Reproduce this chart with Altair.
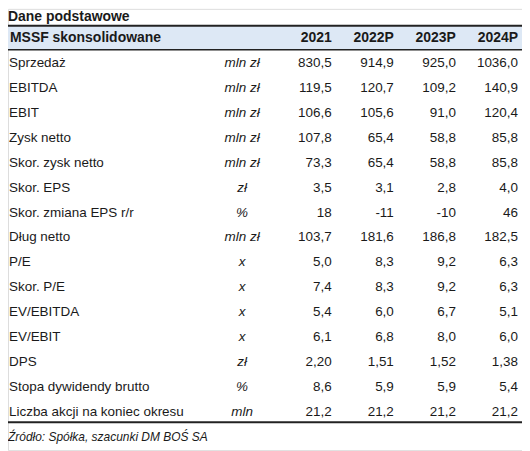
import altair as alt
import pandas as pd

title_text = "Dane podstawowe"
header_label = "MSSF skonsolidowane"
source_text = "Źródło: Spółka, szacunki DM BOŚ SA"

years = ["2021", "2022P", "2023P", "2024P"]

labels = [
    "Sprzedaż", "EBITDA", "EBIT", "Zysk netto", "Skor. zysk netto", "Skor. EPS",
    "Skor. zmiana EPS r/r", "Dług netto", "P/E", "Skor. P/E", "EV/EBITDA",
    "EV/EBIT", "DPS", "Stopa dywidendy brutto", "Liczba akcji na koniec okresu",
]
units = [
    "mln zł", "mln zł", "mln zł", "mln zł", "mln zł", "zł", "%", "mln zł",
    "x", "x", "x", "x", "zł", "%", "mln",
]
decimals = [1, 1, 1, 1, 1, 1, 0, 1, 1, 1, 1, 1, 2, 1, 1]

v2021 = [830.5, 119.5, 106.6, 107.8, 73.3, 3.5, 18, 103.7, 5.0, 7.4, 5.4, 6.1, 2.20, 8.6, 21.2]
v2022 = [914.9, 120.7, 105.6, 65.4, 65.4, 3.1, -11, 181.6, 8.3, 8.3, 6.0, 6.8, 1.51, 5.9, 21.2]
v2023 = [925.0, 109.2, 91.0, 58.8, 58.8, 2.8, -10, 186.8, 9.2, 9.2, 6.7, 8.0, 1.52, 5.9, 21.2]
v2024 = [1036.0, 140.9, 120.4, 85.8, 85.8, 4.0, 46, 182.5, 6.3, 6.3, 5.1, 6.0, 1.38, 5.4, 21.2]

FONT = "Liberation Sans Narrow, Arial Narrow, Liberation Sans, Arial"
FS = 13.5
TXT = "#1a1a1a"

def fmt(v, d):
    return f"{v:.{d}f}".replace(".", ",")

rows_df = pd.DataFrame({"row": labels, "unit": units})
vals = []
for ci, (yr, series) in enumerate(zip(years, [v2021, v2022, v2023, v2024])):
    for lab, v, d in zip(labels, series, decimals):
        vals.append({"row": lab, "col": ci, "txt": fmt(v, d)})
vals_df = pd.DataFrame(vals)
head_df = pd.DataFrame({"row": [header_label] * len(years),
                        "col": list(range(len(years))), "txt": years})
head_lab_df = pd.DataFrame({"row": [header_label]})

yscale = alt.Scale(type="point", domain=[header_label] + labels, range=[29, 405], padding=0)
xscale = alt.Scale(type="linear", domain=[0, len(years) - 1], range=[325, 512], zero=False, nice=False)
Y = alt.Y("row:N", scale=yscale, axis=None)
X = alt.X("col:Q", scale=xscale, axis=None)

one = alt.Data(values=[{}])

band = alt.Chart(one).mark_rect(color="#dde8f5").encode(
    x=alt.value(0), x2=alt.value(516), y=alt.value(17), y2=alt.value(41))
rule_top = alt.Chart(one).mark_rule(color="#222222", strokeWidth=2).encode(
    x=alt.value(0), x2=alt.value(516), y=alt.value(17))
rule_mid = alt.Chart(one).mark_rule(color="#222222", strokeWidth=1.5).encode(
    x=alt.value(0), x2=alt.value(516), y=alt.value(41))
rule_bot = alt.Chart(one).mark_rule(color="#222222", strokeWidth=2).encode(
    x=alt.value(0), x2=alt.value(516), y=alt.value(415))

title = alt.Chart(one).mark_text(
    text=title_text, font=FONT, fontSize=14, fontWeight="bold", align="left",
    baseline="alphabetic", color=TXT).encode(x=alt.value(0), y=alt.value(12))
source = alt.Chart(one).mark_text(
    text=source_text, font=FONT, fontSize=12, fontStyle="italic", align="left",
    baseline="middle", color=TXT).encode(x=alt.value(0), y=alt.value(430))

head_label = alt.Chart(head_lab_df).mark_text(
    font=FONT, fontSize=14, fontWeight="bold", align="left", baseline="middle",
    color=TXT).encode(x=alt.value(2), y=Y, text="row:N")
head_years = alt.Chart(head_df).mark_text(
    font=FONT, fontSize=14, fontWeight="bold", align="right", baseline="middle",
    color=TXT).encode(x=X, y=Y, text="txt:N")

row_labels = alt.Chart(rows_df).mark_text(
    font=FONT, fontSize=FS, align="left", baseline="middle", color=TXT).encode(
    x=alt.value(1), y=Y, text="row:N")
unit_labels = alt.Chart(rows_df).mark_text(
    font=FONT, fontSize=FS, fontStyle="italic", align="center", baseline="middle",
    color=TXT).encode(x=alt.value(235), y=Y, text="unit:N")
values = alt.Chart(vals_df).mark_text(
    font=FONT, fontSize=FS, align="right", baseline="middle", color=TXT).encode(
    x=X, y=Y, text="txt:N")

chart = alt.layer(
    band, rule_top, rule_mid, rule_bot, title, source,
    head_label, head_years, row_labels, unit_labels, values,
).properties(
    width=516, height=443, autosize=alt.AutoSizeParams(type="none"), padding=0,
).configure_view(stroke=None).configure(background="white")

chart.save("out.html", embed_options={"renderer": "svg", "actions": False})
